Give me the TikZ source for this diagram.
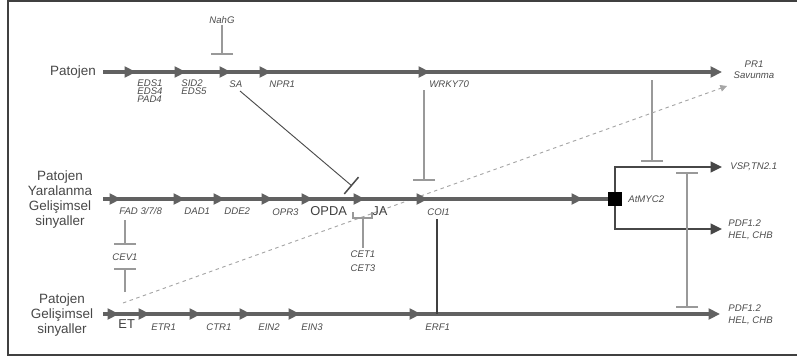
\documentclass[tikz,border=0pt]{standalone}
\usepackage{fontspec}
\setmainfont{Liberation Sans}
\usetikzlibrary{arrows.meta,positioning}

\begin{document}
\begin{tikzpicture}[
    x=0.03cm, y=-0.03cm,
    backbone/.style={line width=3pt, draw=black!62},
    pathway/.style={-{Triangle[length=3.4mm,width=3.2mm]}, line width=3pt, draw=black!62},
    branch/.style={-{Triangle[length=3.4mm,width=3.2mm]}, line width=1.4pt, draw=black!72},
    inhib/.style={-{Bar[width=6.6mm,line width=1.3pt]}, line width=1.3pt, draw=black!40},
    dualinhib/.style={{Bar[width=6.6mm,line width=1.3pt]}-{Bar[width=6.6mm,line width=1.3pt]}, line width=1.3pt, draw=black!40},
    dashline/.style={dashed, -{Triangle[length=2mm,width=2mm]}, line width=0.8pt, draw=black!35},
    gene/.style={font=\fontsize{8.2}{9}\selectfont\itshape, text=black!70, inner sep=1pt, align=left},
    metab/.style={font=\fontsize{11}{12}\selectfont, text=black!75, inner sep=1pt},
    signal/.style={font=\fontsize{11.5}{12.8}\selectfont, text=black!72, align=center, inner sep=1pt}]

  \useasboundingbox (0,0) rectangle (797,360);
  \draw[line width=1pt, black!75] (797,1) -- (8,1) -- (8,355) -- (797,355);

  % SA pathway
  \node[signal] (patojenA) at (73,72) {Patojen};
  \coordinate (t0) at (103,72);
  \coordinate (t1) at (136,72);
  \coordinate (t2) at (186,72);
  \coordinate (t3) at (231,72);
  \coordinate (t4) at (271,72);
  \coordinate (t5) at (430,72);
  \coordinate (t6) at (722,72);
  \draw[backbone] (t0) -- (t5);
  \draw[pathway] (t0) -- (t1);
  \draw[pathway] (t1) -- (t2);
  \draw[pathway] (t2) -- (t3);
  \draw[pathway] (t3) -- (t4);
  \draw[pathway] (t4) -- (t5);
  \draw[pathway] (t5) -- (t6);

  \node[gene, anchor=north west] (eds) at (136,78) {EDS1\\[-2pt]EDS4\\[-2pt]PAD4};
  \node[gene, anchor=north west] (sid) at (180,78) {SID2\\[-2pt]EDS5};
  \node[gene, anchor=north west] (sa) at (228,79) {SA};
  \node[gene, anchor=north west] (npr) at (268,79) {NPR1};
  \node[gene, anchor=north west] (wrky) at (428,79) {WRKY70};
  \node[gene, align=center] (pr1) at (754,70) {PR1\\Savunma};

  % Inhibitions
  \node[gene] (nahg) at (222,20) {NahG};
  \coordinate (saT) at (222,55);
  \draw[inhib] (nahg) -- (saT);
  \coordinate (saL) at (240,91);
  \coordinate (opdaT) at (352,186);
  \draw[inhib, draw=black!70, line width=0.8pt] (saL) -- (opdaT);
  \coordinate (wrkyL) at (424,90);
  \coordinate (coiT) at (424,181);
  \draw[inhib] (wrkyL) -- (coiT);
  \coordinate (prL) at (652,80);
  \coordinate (vspT) at (652,162);
  \draw[inhib] (prL) -- (vspT);
  \coordinate (etD) at (123,303);
  \coordinate (pr1D) at (727,86);
  \draw[dashline] (etD) -- (pr1D);

  % JA pathway
  \node[signal] (patojenB) at (60,200) {Patojen\\Yaralanma\\Gelişimsel\\sinyaller};
  \coordinate (m0) at (103,199);
  \coordinate (m1) at (121,199);
  \coordinate (m2) at (185,199);
  \coordinate (m3) at (225,199);
  \coordinate (m4) at (273,199);
  \coordinate (m5) at (313,199);
  \coordinate (m6) at (365,199);
  \coordinate (m7) at (428,199);
  \coordinate (m8) at (583,199);
  \node[draw, fill=black, minimum size=0.39cm, inner sep=0pt] (myc) at (615,199) {};
  \draw[backbone] (m0) -- (myc);
  \draw[pathway] (m0) -- (m1);
  \draw[pathway] (m1) -- (m2);
  \draw[pathway] (m2) -- (m3);
  \draw[pathway] (m3) -- (m4);
  \draw[pathway] (m4) -- (m5);
  \draw[pathway] (m5) -- (m6);
  \draw[pathway] (m6) -- (m7);
  \draw[pathway] (m7) -- (m8);

  \node[gene, anchor=north west] (fad) at (118,206) {FAD 3/7/8};
  \node[gene, anchor=north west] (dad) at (183,206) {DAD1};
  \node[gene, anchor=north west] (dde) at (223,206) {DDE2};
  \node[gene, anchor=north west] (opr) at (271,207) {OPR3};
  \node[metab, anchor=north west] (opda) at (309,205) {OPDA};
  \node[metab, anchor=north west] (ja) at (371,205) {JA};
  \node[gene, anchor=north west] (coi) at (426,207) {COI1};
  \node[gene, anchor=west] (mycL) at (627,199) {AtMYC2};

  \coordinate (brL) at (353,212);
  \coordinate (brM) at (363,218);
  \coordinate (brR) at (372,212);
  \coordinate (cetT) at (363,248);
  \draw[line width=1.3pt, draw=black!40] (brL) |- (brM) -| (brR);
  \draw[line width=1.3pt, draw=black!40] (brM) -- (cetT);
  \node[gene, anchor=north, align=center] (cet) at (363,249) {CET1\\[3pt]CET3};

  \coordinate (cevA) at (125,220);
  \coordinate (cevB) at (125,245);
  \node[gene] (cev) at (125,257) {CEV1};
  \coordinate (cevC) at (125,268);
  \coordinate (cevD) at (125,292);
  \draw[inhib] (cevA) -- (cevB);
  \draw[inhib] (cevD) -- (cevC);

  % AtMYC2 branches
  \coordinate (vspC) at (615,167);
  \coordinate (vspE) at (722,167);
  \coordinate (pdfC) at (615,229);
  \coordinate (pdfE) at (722,229);
  \draw[branch] (myc.north) -- (vspC) -- (vspE);
  \draw[branch] (myc.south) -- (pdfC) -- (pdfE);
  \node[gene, anchor=west] (vsp) at (729,167) {VSP,TN2.1};
  \node[gene, anchor=west] (pdfA) at (727,230) {PDF1.2\\[1pt]HEL, CHB};
  \coordinate (dblT) at (687,172);
  \coordinate (dblB) at (687,308);
  \draw[dualinhib] (dblB) -- (dblT);

  % ET pathway
  \node[signal] (patojenC) at (62,315) {Patojen\\Gelişimsel\\sinyaller};
  \coordinate (b0) at (103,314);
  \coordinate (b1) at (119,314);
  \coordinate (b2) at (150,314);
  \coordinate (b3) at (201,314);
  \coordinate (b4) at (251,314);
  \coordinate (b5) at (300,314);
  \coordinate (b6) at (421,314);
  \coordinate (b7) at (720,314);
  \draw[backbone] (b0) -- (b6);
  \draw[pathway] (b0) -- (b1);
  \draw[pathway] (b1) -- (b2);
  \draw[pathway] (b2) -- (b3);
  \draw[pathway] (b3) -- (b4);
  \draw[pathway] (b4) -- (b5);
  \draw[pathway] (b5) -- (b6);
  \draw[pathway] (b6) -- (b7);

  \node[metab, anchor=north west] (et) at (117,318) {ET};
  \node[gene, anchor=north west] (etr) at (150,322) {ETR1};
  \node[gene, anchor=north west] (ctr) at (205,322) {CTR1};
  \node[gene, anchor=north west] (ein2) at (257,322) {EIN2};
  \node[gene, anchor=north west] (ein3) at (300,322) {EIN3};
  \node[gene, anchor=north west] (erf) at (424,322) {ERF1};
  \node[gene, anchor=west] (pdfB) at (727,315) {PDF1.2\\[1pt]HEL, CHB};

  \coordinate (coiD) at (437,219);
  \coordinate (erfU) at (437,314);
  \draw[line width=1.4pt, draw=black!75] (coiD) -- (erfU);

\end{tikzpicture}
\end{document}
